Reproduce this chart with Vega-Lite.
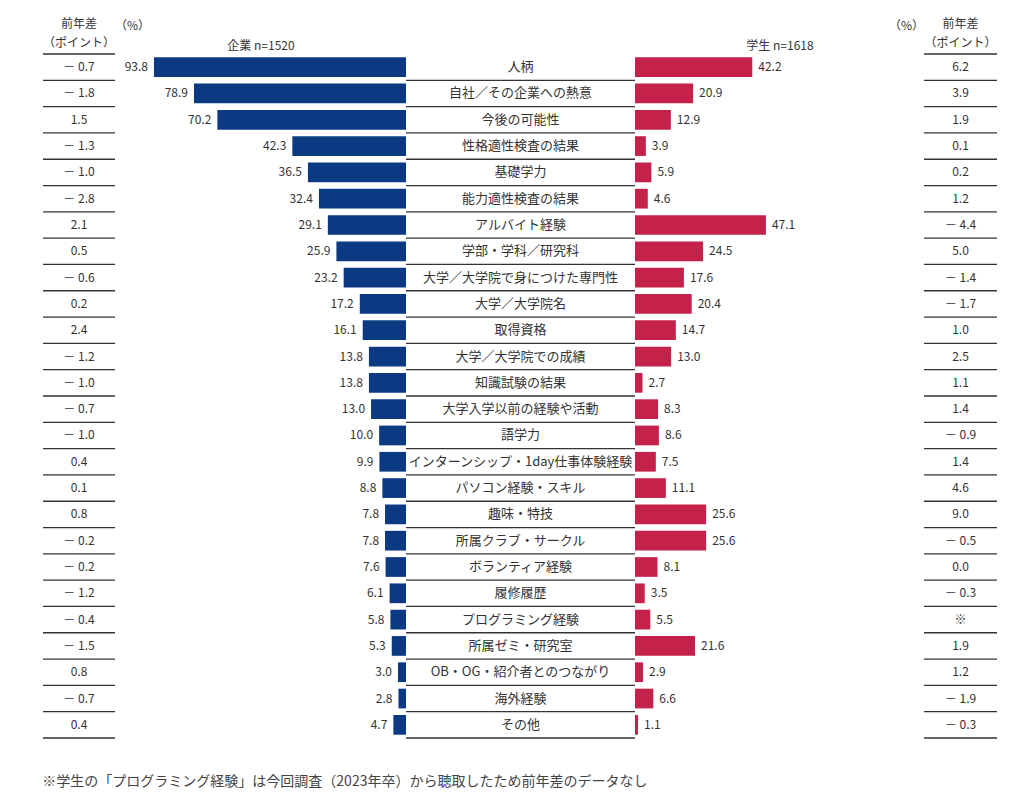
{
  "$schema": "https://vega.github.io/schema/vega-lite/v6.json",
  "padding": {"left": 42, "top": 18, "right": 10, "bottom": 10},
  "background": "white",
  "bounds": "flush",
  "config": {
    "view": {"stroke": null},
    "concat": {"spacing": 0},
    "font": "Noto Sans CJK JP",
    "title": {"fontWeight": "normal", "color": "#333", "fontSize": 12}
  },
  "title": {"text": "※学生の「プログラミング経験」は今回調査（2023年卒）から聴取したため前年差のデータなし", "orient": "bottom", "anchor": "start", "offset": 36, "fontSize": 14, "color": "#444", "fontWeight": "normal"},
  "data": {"values": [
    {"item": "人柄", "c": 93.8, "cd": "－ 0.7", "s": 42.2, "sd": "6.2"},
    {"item": "自社／その企業への熱意", "c": 78.9, "cd": "－ 1.8", "s": 20.9, "sd": "3.9"},
    {"item": "今後の可能性", "c": 70.2, "cd": "1.5", "s": 12.9, "sd": "1.9"},
    {"item": "性格適性検査の結果", "c": 42.3, "cd": "－ 1.3", "s": 3.9, "sd": "0.1"},
    {"item": "基礎学力", "c": 36.5, "cd": "－ 1.0", "s": 5.9, "sd": "0.2"},
    {"item": "能力適性検査の結果", "c": 32.4, "cd": "－ 2.8", "s": 4.6, "sd": "1.2"},
    {"item": "アルバイト経験", "c": 29.1, "cd": "2.1", "s": 47.1, "sd": "－ 4.4"},
    {"item": "学部・学科／研究科", "c": 25.9, "cd": "0.5", "s": 24.5, "sd": "5.0"},
    {"item": "大学／大学院で身につけた専門性", "c": 23.2, "cd": "－ 0.6", "s": 17.6, "sd": "－ 1.4"},
    {"item": "大学／大学院名", "c": 17.2, "cd": "0.2", "s": 20.4, "sd": "－ 1.7"},
    {"item": "取得資格", "c": 16.1, "cd": "2.4", "s": 14.7, "sd": "1.0"},
    {"item": "大学／大学院での成績", "c": 13.8, "cd": "－ 1.2", "s": 13.0, "sd": "2.5"},
    {"item": "知識試験の結果", "c": 13.8, "cd": "－ 1.0", "s": 2.7, "sd": "1.1"},
    {"item": "大学入学以前の経験や活動", "c": 13.0, "cd": "－ 0.7", "s": 8.3, "sd": "1.4"},
    {"item": "語学力", "c": 10.0, "cd": "－ 1.0", "s": 8.6, "sd": "－ 0.9"},
    {"item": "インターンシップ・1day仕事体験経験", "c": 9.9, "cd": "0.4", "s": 7.5, "sd": "1.4"},
    {"item": "パソコン経験・スキル", "c": 8.8, "cd": "0.1", "s": 11.1, "sd": "4.6"},
    {"item": "趣味・特技", "c": 7.8, "cd": "0.8", "s": 25.6, "sd": "9.0"},
    {"item": "所属クラブ・サークル", "c": 7.8, "cd": "－ 0.2", "s": 25.6, "sd": "－ 0.5"},
    {"item": "ボランティア経験", "c": 7.6, "cd": "－ 0.2", "s": 8.1, "sd": "0.0"},
    {"item": "履修履歴", "c": 6.1, "cd": "－ 1.2", "s": 3.5, "sd": "－ 0.3"},
    {"item": "プログラミング経験", "c": 5.8, "cd": "－ 0.4", "s": 5.5, "sd": "※"},
    {"item": "所属ゼミ・研究室", "c": 5.3, "cd": "－ 1.5", "s": 21.6, "sd": "1.9"},
    {"item": "OB・OG・紹介者とのつながり", "c": 3.0, "cd": "0.8", "s": 2.9, "sd": "1.2"},
    {"item": "海外経験", "c": 2.8, "cd": "－ 0.7", "s": 6.6, "sd": "－ 1.9"},
    {"item": "その他", "c": 4.7, "cd": "0.4", "s": 1.1, "sd": "－ 0.3"}
  ]},
  "hconcat": [
    {
      "width": 72, "height": 684,
      "title": {"text": ["前年差", "（ポイント）"], "anchor": "middle", "offset": 3, "lineHeight": 19},
      "encoding": {"y": {"field": "item", "type": "nominal", "sort": null, "axis": null, "scale": {"paddingInner": 0, "paddingOuter": 0}}},
      "layer": [
        {"mark": {"type": "text", "fontSize": 12, "color": "#333"}, "encoding": {"text": {"field": "cd"}}},
        {"mark": {"type": "rule", "color": "#333", "strokeWidth": 1.3}, "encoding": {"y": {"field": "item", "type": "nominal", "sort": null, "bandPosition": 1}}},
        {"transform": [{"filter": "datum.item == '人柄'"}], "mark": {"type": "rule", "color": "#333", "strokeWidth": 1.3}, "encoding": {"y": {"field": "item", "type": "nominal", "sort": null, "bandPosition": 0}}}
      ]
    },
    {
      "width": 291, "height": 684,
      "title": {"text": "（%）", "anchor": "start", "offset": 6},
      "encoding": {
        "y": {"field": "item", "type": "nominal", "sort": null, "axis": null, "scale": {"paddingInner": 0, "paddingOuter": 0}},
        "x": {"field": "c", "type": "quantitative", "scale": {"domain": [0, 108.3], "reverse": true, "nice": false},
              "axis": {"orient": "top", "title": "企業  n=1520", "labels": false, "ticks": false, "domain": false, "grid": false, "titleFontWeight": "normal", "titleFontSize": 12, "titleColor": "#333", "titlePadding": 2}}
      },
      "layer": [
        {"mark": {"type": "bar", "color": "#0b3a82", "height": {"band": 0.75}}},
        {"mark": {"type": "text", "align": "right", "dx": -6, "fontSize": 12, "color": "#333"}, "encoding": {"text": {"field": "c", "format": ".1f"}}}
      ]
    },
    {
      "width": 229, "height": 684,
      "encoding": {"y": {"field": "item", "type": "nominal", "sort": null, "axis": null, "scale": {"paddingInner": 0, "paddingOuter": 0}}},
      "layer": [
        {"mark": {"type": "text", "fontSize": 13, "color": "#333"}, "encoding": {"text": {"field": "item"}}},
        {"mark": {"type": "rule", "color": "#333", "strokeWidth": 1.3}, "encoding": {"y": {"field": "item", "type": "nominal", "sort": null, "bandPosition": 1}}}
      ]
    },
    {
      "width": 289, "height": 684,
      "title": {"text": "（%）", "anchor": "end", "offset": 6},
      "encoding": {
        "y": {"field": "item", "type": "nominal", "sort": null, "axis": null, "scale": {"paddingInner": 0, "paddingOuter": 0}},
        "x": {"field": "s", "type": "quantitative", "scale": {"domain": [0, 104], "nice": false},
              "axis": {"orient": "top", "title": "学生  n=1618", "labels": false, "ticks": false, "domain": false, "grid": false, "titleFontWeight": "normal", "titleFontSize": 12, "titleColor": "#333", "titlePadding": 2}}
      },
      "layer": [
        {"mark": {"type": "bar", "color": "#c4224b", "height": {"band": 0.75}}},
        {"mark": {"type": "text", "align": "left", "dx": 6, "fontSize": 12, "color": "#333"}, "encoding": {"text": {"field": "s", "format": ".1f"}}}
      ]
    },
    {
      "width": 73, "height": 684,
      "title": {"text": ["前年差", "（ポイント）"], "anchor": "middle", "offset": 3, "lineHeight": 19},
      "encoding": {"y": {"field": "item", "type": "nominal", "sort": null, "axis": null, "scale": {"paddingInner": 0, "paddingOuter": 0}}},
      "layer": [
        {"mark": {"type": "text", "fontSize": 12, "color": "#333"}, "encoding": {"text": {"field": "sd"}}},
        {"mark": {"type": "rule", "color": "#333", "strokeWidth": 1.3}, "encoding": {"y": {"field": "item", "type": "nominal", "sort": null, "bandPosition": 1}}},
        {"transform": [{"filter": "datum.item == '人柄'"}], "mark": {"type": "rule", "color": "#333", "strokeWidth": 1.3}, "encoding": {"y": {"field": "item", "type": "nominal", "sort": null, "bandPosition": 0}}}
      ]
    }
  ]
}
